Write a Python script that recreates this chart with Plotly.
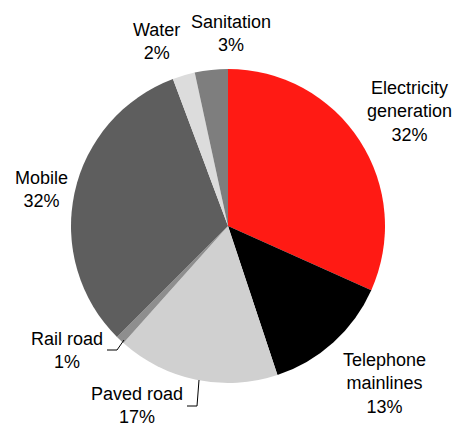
import plotly.graph_objects as go

categories = ["Electricity<br>generation", "Telephone<br>mainlines", "Paved road", "Rail road",
              "Mobile", "Water", "Sanitation"]
values = [31.7, 13.2, 16.7, 0.9, 31.8, 2.3, 3.4]
colors = ["#FF1A14", "#000000", "#D0D0D0", "#8E8E8E", "#5E5E5E", "#DCDCDC", "#7E7E7E"]

W, H = 461, 428
OFF = 8  # page body margin offset
CX, CY, R = 228, 226, 157

# label anchor centres (pixels in the window) for each category
label_pos = [(409, 111), (384, 383), (137, 405), (67, 350), (41, 189), (156, 42), (231, 34)]


def px(x):
    return (x - OFF) / W


def py(y):
    return 1 - (y - OFF) / H


fig = go.Figure(go.Pie(
    labels=categories,
    values=values,
    sort=False,
    direction="clockwise",
    rotation=0,
    marker=dict(colors=colors, line=dict(width=0)),
    textinfo="none",
    showlegend=False,
    hoverinfo="label+percent",
    domain=dict(x=[px(CX - R), px(CX + R)], y=[py(CY + R), py(CY - R)]),
))

total = sum(values)
for cat, v, (lx, ly) in zip(categories, values, label_pos):
    fig.add_annotation(
        x=px(lx), y=py(ly), xref="paper", yref="paper",
        text=f"{cat}<br>{round(v / total * 100)}%",
        showarrow=False, xanchor="center", yanchor="middle",
        font=dict(family="Liberation Sans, Arial, sans-serif", size=18, color="#000000"),
    )

# leader lines
leaders = [
    [(199, 380), (197, 406), (187, 406)],   # Paved road
    [(124, 340), (117, 350), (107, 350)],   # Rail road
]
for pts in leaders:
    path = "M " + " L ".join(f"{px(x)},{py(y)}" for x, y in pts)
    fig.add_shape(type="path", path=path, xref="paper", yref="paper",
                  line=dict(color="#000000", width=1))

fig.update_layout(
    width=W, height=H,
    margin=dict(l=0, r=0, t=0, b=0),
    paper_bgcolor="white",
    plot_bgcolor="white",
)

fig.write_html("out.html")
